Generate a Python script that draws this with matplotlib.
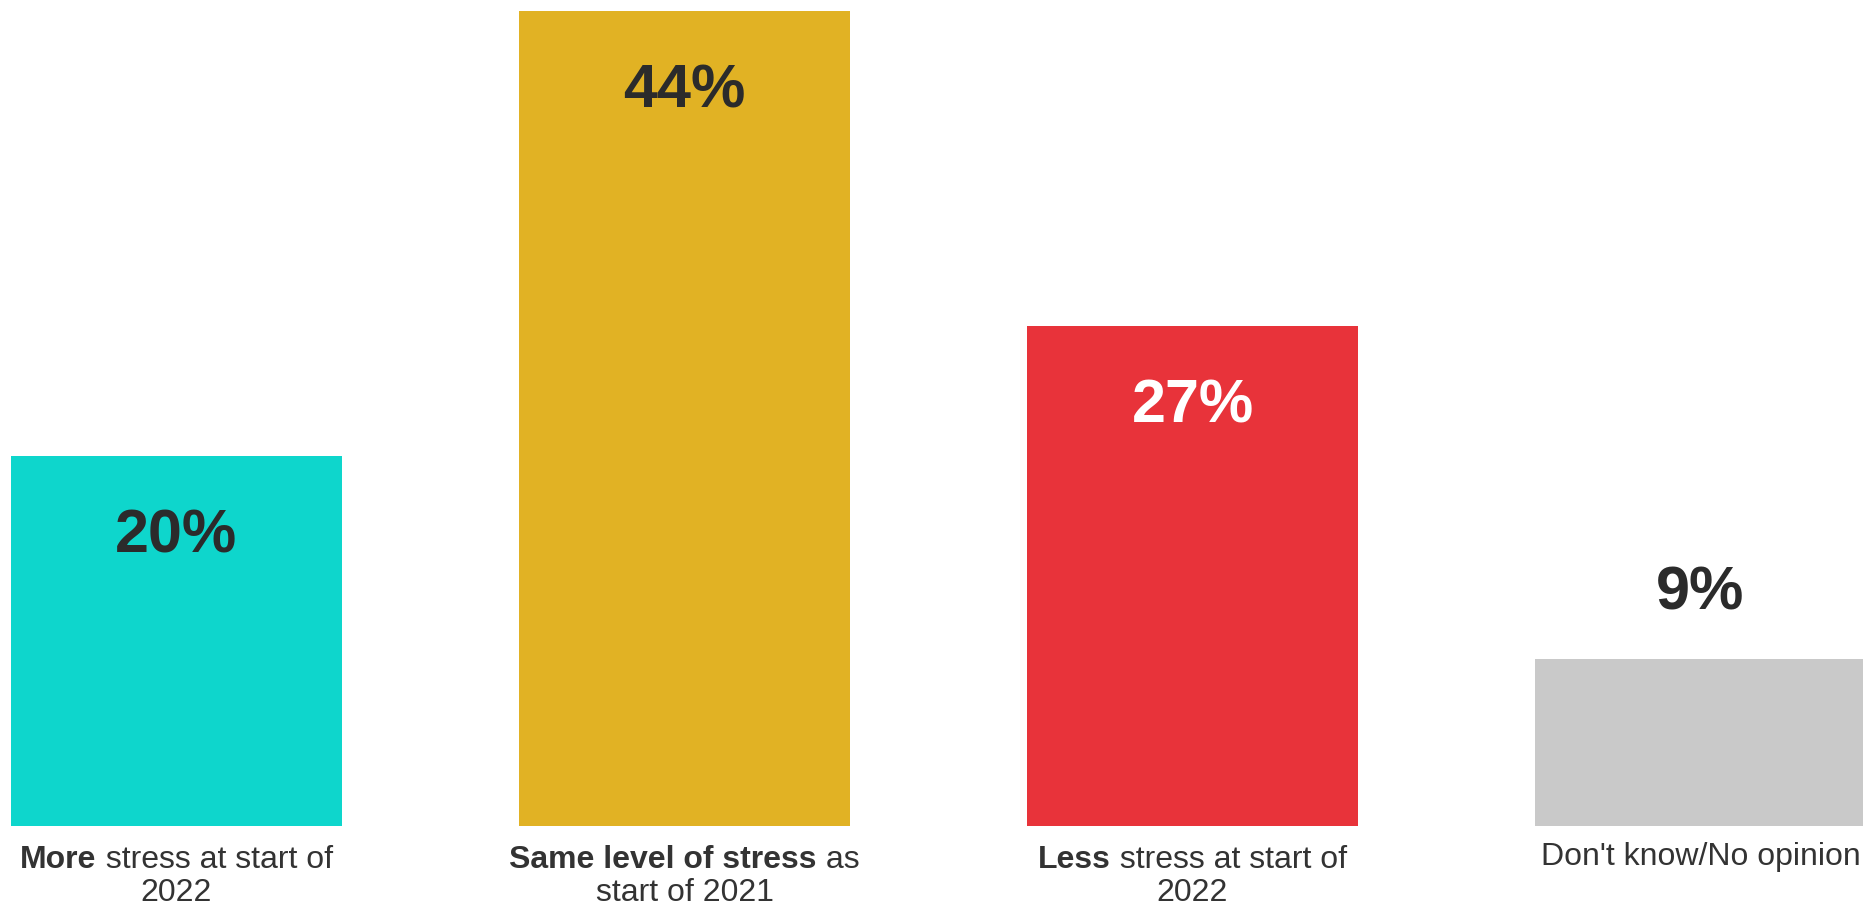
import matplotlib.pyplot as plt
from matplotlib.transforms import offset_copy

plt.rcParams['font.family'] = ['Liberation Sans', 'DejaVu Sans']

# survey answers
bold_parts = ['More', 'Same level of stress', 'Less', '']
regular_parts = [' stress at start of', ' as', ' stress at start of', "Don't know/No opinion"]
second_lines = ['2022', 'start of 2021', '2022', '']
values = [20, 44, 27, 9]
colors = ['#0ED6CC', '#E1B224', '#E8333A', '#C9C9C9']
value_colors = ['#2B2B2B', '#2B2B2B', '#FFFFFF', '#2B2B2B']

W, H, DPI = 1863, 905, 100
fig = plt.figure(figsize=(W / DPI, H / DPI), dpi=DPI)
bottom_px, top_px = 826, 11
ax = fig.add_axes([0, 1 - bottom_px / H, 1, (bottom_px - top_px) / H])

x = list(range(len(values)))
ax.bar(x, values, width=0.652, color=colors)
unit = 508  # pixels between bar centres
ax.set_xlim(-(176.5 / unit), (W - 176.5) / unit)
ax.set_ylim(0, max(values))
ax.axis('off')

LABEL_FS = 23
VALUE_FS = 44
text_color = '#333333'

# value labels: inside near the top, or above the bar when it is short
for xi, v, c in zip(x, values, value_colors):
    if v >= 15:
        tr = offset_copy(ax.transData, fig=fig, x=0, y=-97, units='dots')
    else:
        tr = offset_copy(ax.transData, fig=fig, x=0, y=50, units='dots')
    ax.text(xi, v, f'{v}%', transform=tr, ha='center', va='baseline',
            fontsize=VALUE_FS, fontweight='bold', color=c)

fig.canvas.draw()
renderer = fig.canvas.get_renderer()


def text_width(s, weight):
    if not s:
        return 0.0
    t = fig.text(0, 0, s, fontsize=LABEL_FS, fontweight=weight)
    w = t.get_window_extent(renderer).width
    t.remove()
    return w


base = ax.get_xaxis_transform()
for xi, b, r, l2 in zip(x, bold_parts, regular_parts, second_lines):
    wb = text_width(b, 'bold')
    wr = text_width(r, 'normal')
    start = -(wb + wr) / 2
    y1 = -42 if l2 else -39
    if b:
        tr = offset_copy(base, fig=fig, x=start, y=y1, units='dots')
        ax.text(xi, 0, b, transform=tr, ha='left', va='baseline',
                fontsize=LABEL_FS, fontweight='bold', color=text_color)
    tr = offset_copy(base, fig=fig, x=start + wb, y=y1, units='dots')
    ax.text(xi, 0, r, transform=tr, ha='left', va='baseline',
            fontsize=LABEL_FS, color=text_color)
    if l2:
        tr = offset_copy(base, fig=fig, x=0, y=-75, units='dots')
        ax.text(xi, 0, l2, transform=tr, ha='center', va='baseline',
                fontsize=LABEL_FS, color=text_color)

fig.savefig('out.png', dpi=DPI)
